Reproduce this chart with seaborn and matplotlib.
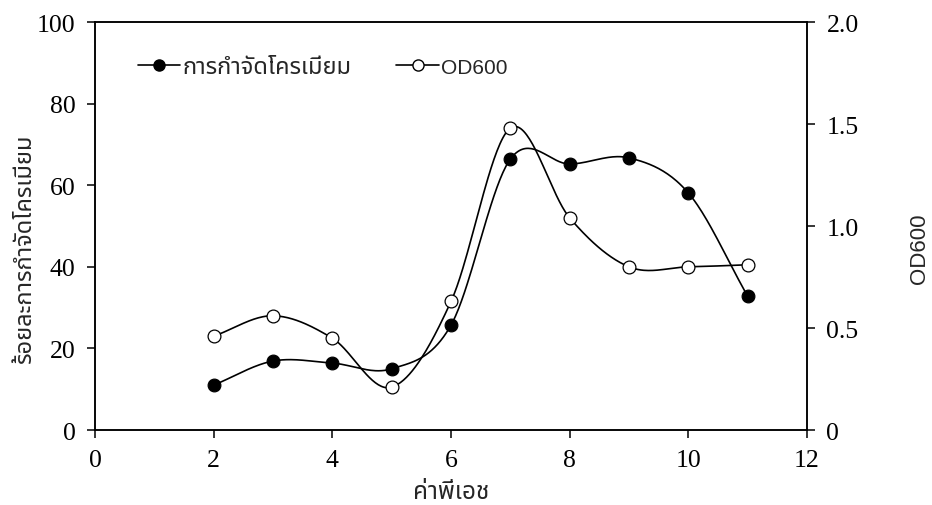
import matplotlib
matplotlib.use("Agg")
import numpy as np
import pandas as pd
import matplotlib.pyplot as plt
from matplotlib import font_manager
from matplotlib.lines import Line2D
import seaborn as sns

# pH values and measured responses
ph = [2, 3, 4, 5, 6, 7, 8, 9, 10, 11]
chromium_removal = [11.0, 16.9, 16.4, 15.0, 25.7, 66.4, 65.2, 66.7, 58.1, 32.8]
od600 = [0.46, 0.56, 0.45, 0.21, 0.63, 1.48, 1.04, 0.80, 0.80, 0.81]

label_removal = "การกำจัดโครเมียม"
label_od = "OD600"
xlabel = "ค่าพีเอช"
ylabel_left = "ร้อยละการกำจัดโครเมียม"
ylabel_right = "OD600"

x_ticks = [0, 2, 4, 6, 8, 10, 12]
y_ticks_left = [0, 20, 40, 60, 80, 100]
y_ticks_right = [0, 0.5, 1.0, 1.5, 2.0]
y_ticklabels_right = ["0", "0.5", "1.0", "1.5", "2.0"]

sns.set_style("ticks")

available = {f.name for f in font_manager.fontManager.ttflist}
thai_font = next((n for n in ["Noto Sans Thai", "Noto Sans Thai UI", "Sarabun",
                               "Loma", "Garuda", "FreeSerif"] if n in available), "DejaVu Sans")
serif_font = "Liberation Serif"
sans_font = "Liberation Sans"
plt.rcParams["font.family"] = [serif_font, "DejaVu Sans"]


def catmull_rom(xs, ys, n=40):
    """Smooth curve through the points (cubic Hermite, Catmull-Rom tangents)."""
    xs = np.asarray(xs, float)
    ys = np.asarray(ys, float)
    m = np.empty_like(ys)
    m[1:-1] = (ys[2:] - ys[:-2]) / (xs[2:] - xs[:-2])
    m[0] = (ys[1] - ys[0]) / (xs[1] - xs[0])
    m[-1] = (ys[-1] - ys[-2]) / (xs[-1] - xs[-2])
    out_x, out_y = [], []
    for i in range(len(xs) - 1):
        h = xs[i + 1] - xs[i]
        t = np.linspace(0, 1, n, endpoint=(i == len(xs) - 2))
        h00 = 2 * t**3 - 3 * t**2 + 1
        h10 = t**3 - 2 * t**2 + t
        h01 = -2 * t**3 + 3 * t**2
        h11 = t**3 - t**2
        out_x.append(xs[i] + t * h)
        out_y.append(h00 * ys[i] + h10 * h * m[i] + h01 * ys[i + 1] + h11 * h * m[i + 1])
    return np.concatenate(out_x), np.concatenate(out_y)


pts = pd.DataFrame({"ph": ph, "removal": chromium_removal, "od": od600})
sx, sy = catmull_rom(ph, chromium_removal)
curve_removal = pd.DataFrame({"ph": sx, "value": sy})
sx2, sy2 = catmull_rom(ph, od600)
curve_od = pd.DataFrame({"ph": sx2, "value": sy2})

fig = plt.figure(figsize=(9.32, 5.06), dpi=100)
ax = fig.add_axes([0.1019, 0.1482, 0.7640, 0.8063])
ax2 = ax.twinx()

lw = 1.2
sns.lineplot(data=curve_removal, x="ph", y="value", ax=ax, color="black",
             linewidth=lw, sort=False, estimator=None)
sns.scatterplot(data=pts, x="ph", y="removal", ax=ax, color="black",
                edgecolor="black", s=85, linewidth=0.8, zorder=5)
sns.lineplot(data=curve_od, x="ph", y="value", ax=ax2, color="black",
             linewidth=lw, sort=False, estimator=None)
sns.scatterplot(data=pts, x="ph", y="od", ax=ax2, color="white",
                edgecolor="black", s=85, linewidth=0.9, zorder=5)

ax.set_xlim(0, 12)
ax.set_ylim(0, 100)
ax2.set_ylim(0, 2.0)
ax.set_xticks(x_ticks)
ax.set_xticklabels([str(v) for v in x_ticks])
ax.set_yticks(y_ticks_left)
ax.set_yticklabels([str(v) for v in y_ticks_left])
ax2.set_yticks(y_ticks_right)
ax2.set_yticklabels(y_ticklabels_right)

for a in (ax, ax2):
    for s in a.spines.values():
        s.set_visible(True)
        s.set_linewidth(1.1)
        s.set_color("black")
    a.tick_params(direction="out", length=6, width=1.1, labelsize=18.5, pad=8,
                  colors="black")

thai = [thai_font, "DejaVu Sans"]
ax.set_xlabel(xlabel, fontsize=17.5, family=thai, labelpad=6)
ax.set_ylabel(ylabel_left, fontsize=17, family=thai)
ax.yaxis.set_label_coords(-0.082, 0.446)
ax2.set_ylabel(ylabel_right, fontsize=16, family=[sans_font])
ax2.yaxis.set_label_coords(1.143, 0.446)

handles = [
    Line2D([], [], color="black", linewidth=lw, marker="o", markersize=8,
           markerfacecolor="black", markeredgecolor="black"),
    Line2D([], [], color="black", linewidth=lw, marker="o", markersize=8,
           markerfacecolor="white", markeredgecolor="black"),
]
leg = ax.legend(handles, [label_removal, label_od], loc="center left",
                bbox_to_anchor=(0.060, 0.89), ncol=2, frameon=False,
                borderpad=0, borderaxespad=0,
                handlelength=1.8, handletextpad=0.1, columnspacing=1.9,
                prop={"family": thai, "size": 17})
leg.get_texts()[1].set_fontsize(15)
leg.get_texts()[1].set_family([sans_font])

fig.savefig("out.png", dpi=100)
